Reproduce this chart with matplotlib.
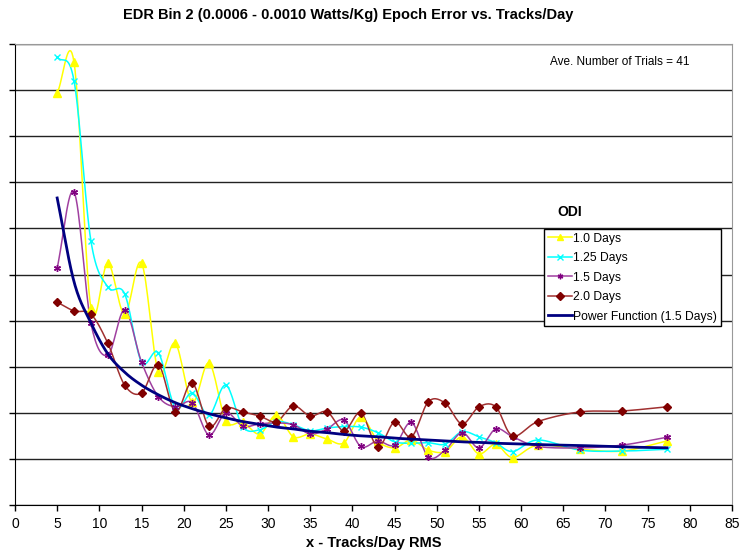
import numpy as np
import matplotlib
matplotlib.use("Agg")
import matplotlib.pyplot as plt
from matplotlib.lines import Line2D

plt.rcParams['font.family'] = ['Liberation Sans', 'DejaVu Sans']

# tracks/day (x) shared by all series
x = [5, 7, 9, 11, 13, 15, 17, 19, 21, 23, 25, 27, 29, 31, 33, 35, 37, 39,
     41, 43, 45, 47, 49, 51, 53, 55, 57, 59, 62, 67, 72, 77.3]

# epoch error (arbitrary units, no y labels in the original)
odi_1_0 = [8.94, 9.60, 4.27, 5.25, 4.14, 5.25, 2.89, 3.51, 2.23, 3.08, 1.83, 1.80,
           1.54, 1.95, 1.48, 1.54, 1.43, 1.35, 1.91, 1.39, 1.24, 1.41, 1.19, 1.16,
           1.48, 1.11, 1.32, 1.03, 1.30, 1.21, 1.17, 1.39]
odi_1_25 = [9.72, 9.20, 5.73, 4.73, 4.58, 3.10, 3.30, 2.11, 2.43, 1.95, 2.60, 1.70,
            1.63, 1.81, 1.74, 1.61, 1.67, 1.70, 1.69, 1.57, 1.37, 1.34, 1.35, 1.32,
            1.59, 1.48, 1.35, 1.16, 1.41, 1.19, 1.17, 1.21]
odi_1_5 = [5.14, 6.79, 3.94, 3.25, 4.23, 3.10, 2.35, 2.13, 2.22, 1.52, 2.00, 1.71,
           1.76, 1.78, 1.74, 1.54, 1.65, 1.84, 1.27, 1.39, 1.30, 1.79, 1.04, 1.19,
           1.57, 1.24, 1.65, 1.48, 1.27, 1.24, 1.30, 1.47]
odi_2_0 = [4.40, 4.21, 4.14, 3.51, 2.60, 2.43, 3.04, 2.02, 2.65, 1.71, 2.10, 2.02,
           1.93, 1.81, 2.15, 1.93, 2.02, 1.61, 2.00, 1.26, 1.80, 1.48, 2.24, 2.21,
           1.76, 2.13, 2.13, 1.50, 1.81, 2.02, 2.04, 2.13]
power_fit = [6.66, 4.84, 3.95, 3.28, 2.88, 2.60, 2.39, 2.22, 2.09, 1.98, 1.89, 1.81,
             1.75, 1.69, 1.65, 1.60, 1.57, 1.53, 1.50, 1.48, 1.45, 1.43, 1.41, 1.39,
             1.37, 1.36, 1.34, 1.33, 1.31, 1.29, 1.26, 1.24]


def smooth(xs, ys, n=16):
    # Excel style smoothed line (Catmull-Rom through the points)
    pts = np.column_stack([xs, ys]).astype(float)
    p = np.vstack([2 * pts[0] - pts[1], pts, 2 * pts[-1] - pts[-2]])
    t = np.linspace(0, 1, n, endpoint=False)[:, None]
    segs = []
    for i in range(1, len(p) - 2):
        p0, p1, p2, p3 = p[i - 1], p[i], p[i + 1], p[i + 2]
        segs.append(0.5 * (2 * p1 + (-p0 + p2) * t
                           + (2 * p0 - 5 * p1 + 4 * p2 - p3) * t ** 2
                           + (-p0 + 3 * p1 - 3 * p2 + p3) * t ** 3))
    segs.append(pts[-1:])
    s = np.vstack(segs)
    return s[:, 0], s[:, 1]


fig = plt.figure(figsize=(7.42, 5.5), dpi=100)
ax = fig.add_axes([15 / 742, 45 / 550, 717 / 742, 461 / 550])

series = [
    ("1.0 Days", odi_1_0, "#FFFF00", "#FFFF00", "^", 6),
    ("1.25 Days", odi_1_25, "#00FFFF", "#00FFFF", "x", 5),
    ("1.5 Days", odi_1_5, "#A040A0", "#800080", (6, 2, 0), 5),
    ("2.0 Days", odi_2_0, "#A03030", "#800000", "D", 4),
]

handles = []
for label, vals, lc, mc, mk, ms in series:
    sx, sy = smooth(x, vals)
    ax.plot(sx, sy, color=lc, lw=1.1, zorder=3)
    ax.plot(x, vals, ls='none', marker=mk, ms=ms, color=mc, mec=mc, mfc=mc, mew=1, zorder=4)
    handles.append(Line2D([], [], color=lc, lw=1.1, marker=mk, ms=4, mec=mc, mfc=mc, label=label))

px, py = smooth(x, power_fit)
ax.plot(px, py, color="#000080", lw=2, zorder=5)
handles.append(Line2D([], [], color="#000080", lw=2, label="Power Function (1.5 Days)"))

ax.set_xlim(0, 85)
ax.set_ylim(0, 10)
ax.set_xticks(range(0, 90, 5))
ax.set_yticks(range(0, 11))
ax.set_yticklabels([])
ax.tick_params(axis='x', length=4, width=1, labelsize=10, pad=5, colors='black')
ax.tick_params(axis='y', length=4, width=1)
ax.grid(axis='y', color='#222222', lw=1)
ax.set_axisbelow(True)
for side in ['top', 'right']:
    ax.spines[side].set_color('#999999')
for side in ['left', 'bottom']:
    ax.spines[side].set_color('black')

ax.set_xlabel("x - Tracks/Day RMS", fontsize=10.5, fontweight='bold', labelpad=3)
fig.text(348 / 742, 1 - 15 / 550, "EDR Bin 2 (0.0006 - 0.0010 Watts/Kg) Epoch Error vs. Tracks/Day",
         ha='center', va='center', fontsize=10.5, fontweight='bold')
fig.text(690 / 742, 1 - 62 / 550, "Ave. Number of Trials = 41",
         fontsize=8.5, ha='right', va='center')
fig.text(570 / 742, 1 - 212 / 550, "ODI", ha='center', va='center',
         fontsize=10, fontweight='bold')

leg = ax.legend(handles=handles, loc='upper left', bbox_to_anchor=(0.738, 0.599),
                fontsize=8.75, frameon=True, fancybox=False, framealpha=1,
                edgecolor='black', borderpad=0.3, labelspacing=0.62,
                handlelength=2.0, handletextpad=0.1, borderaxespad=0)
leg.get_frame().set_linewidth(1)

fig.savefig("out.png", dpi=100)
